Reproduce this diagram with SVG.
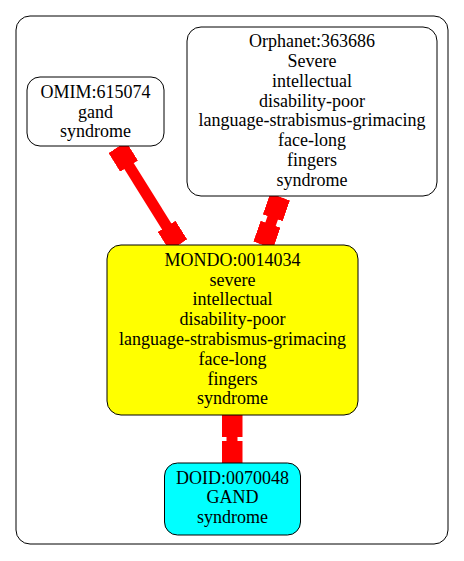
<svg xmlns="http://www.w3.org/2000/svg" width="464" height="561" viewBox="0 0 464 561">
<style>
  text { font-family: "Liberation Serif", "Times New Roman", serif; font-size: 18px; text-anchor: middle; fill: #000; }
  .node { stroke: #000; stroke-width: 1; }
  .edge { stroke: #ff0000; stroke-width: 11; fill: none; marker-start: url(#box); marker-end: url(#box); }
</style>
<defs>
  <marker id="box" markerUnits="userSpaceOnUse" viewBox="0 0 22 21" markerWidth="22" markerHeight="21" refX="22" refY="10.5" orient="auto-start-reverse">
    <rect x="0" y="0" width="22" height="21" fill="#ff0000"/>
  </marker>
</defs>
<rect width="464" height="561" fill="#fff"/>
<g id="cluster">
  <rect x="16" y="16" width="432" height="528" rx="14" ry="14" fill="none" stroke="#000" stroke-width="1"/>
</g>
<g id="connectors">
  <path class="edge" d="M117.4,147.5 L178.3,245"/>
  <path class="edge" d="M280,197 L263.3,245"/>
  <path class="edge" d="M232,415 L232,463"/>
</g>
<g id="omim">
  <rect class="node" x="27" y="77" width="137" height="69" rx="13" ry="13" fill="#fff"/>
  <text x="95.5" y="98">OMIM:615074</text>
  <text x="95.5" y="117.5">gand</text>
  <text x="95.5" y="137">syndrome</text>
</g>
<g id="orphanet">
  <rect class="node" x="187" y="27" width="250" height="169" rx="14" ry="14" fill="#fff"/>
  <text x="312" y="47.3">Orphanet:363686</text>
  <text x="312" y="67">Severe</text>
  <text x="312" y="86.8">intellectual</text>
  <text x="312" y="106.5">disability-poor</text>
  <text x="312" y="126.3">language-strabismus-grimacing</text>
  <text x="312" y="146">face-long</text>
  <text x="312" y="165.8">fingers</text>
  <text x="312" y="185.6">syndrome</text>
</g>
<g id="mondo">
  <rect class="node" x="107" y="245" width="251" height="170" rx="14" ry="14" fill="#ffff00"/>
  <text x="232.5" y="266">MONDO:0014034</text>
  <text x="232.5" y="285.7">severe</text>
  <text x="232.5" y="305.4">intellectual</text>
  <text x="232.5" y="325.2">disability-poor</text>
  <text x="232.5" y="345">language-strabismus-grimacing</text>
  <text x="232.5" y="364.8">face-long</text>
  <text x="232.5" y="384.6">fingers</text>
  <text x="232.5" y="404.4">syndrome</text>
</g>
<g id="doid">
  <rect class="node" x="164.5" y="463" width="136" height="72" rx="13" ry="13" fill="#00ffff"/>
  <text x="232.5" y="483.5">DOID:0070048</text>
  <text x="232.5" y="503">GAND</text>
  <text x="232.5" y="522.5">syndrome</text>
</g>
</svg>
